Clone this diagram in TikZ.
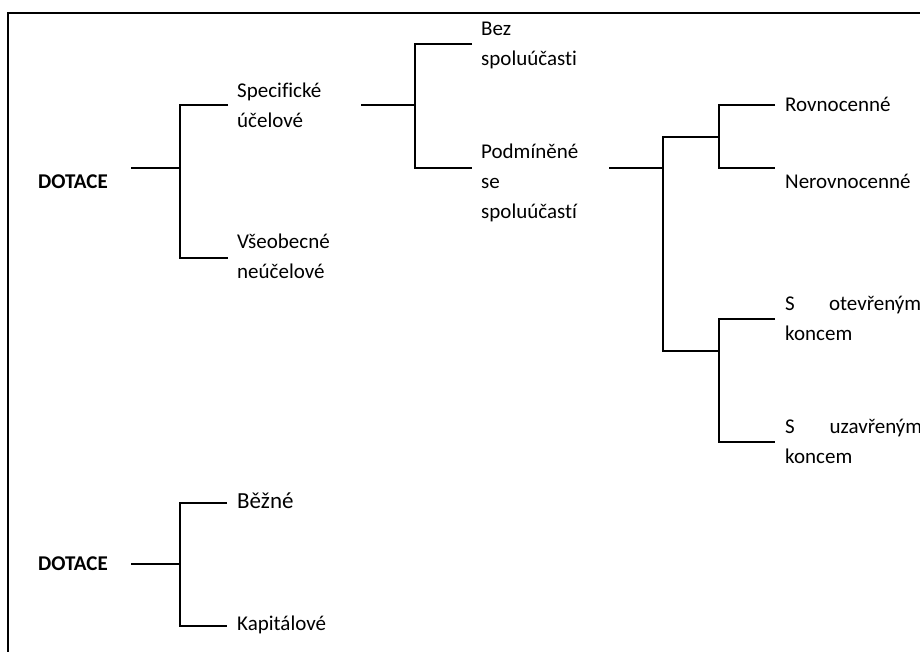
\documentclass[tikz,border=0pt]{standalone}
\usepackage{fontspec}
\setmainfont{Carlito}[Ligatures=NoCommon]
\newcommand{\mlt}[1]{\begin{tabular}[t]{@{}l@{}}#1\end{tabular}}
\begin{document}
\begin{tikzpicture}[x=1pt,y=-1pt,
  lbl/.style={anchor=base west,inner sep=0pt,font=\fontsize{21}{30}\selectfont},
  big/.style={anchor=base west,inner sep=0pt,font=\fontsize{23}{30}\selectfont},
  conn/.style={line width=2pt,miter limit=10,line join=miter}]
\useasboundingbox (0,0) rectangle (920,651);
% frame
\coordinate (fbl) at (8,652);
\coordinate (ftl) at (8,13);
\coordinate (ftr) at (921,13);
\draw[conn] (fbl) -- (ftl) -- (ftr);

% ---------- tree 1 ----------
\node[lbl,font=\fontsize{21}{30}\selectfont\bfseries] (d1) at (38,188) {DOTACE};
\node[lbl] (spec) at (237,97) {\mlt{Specifické\\účelové}};
\node[lbl] (vseo) at (237,248) {\mlt{Všeobecné\\neúčelové}};
\node[lbl] (bez) at (481,35) {\mlt{Bez\\spoluúčasti}};
\node[lbl] (podm) at (481,158) {\mlt{Podmíněné\\se\\spoluúčastí}};
\node[lbl] (rovn) at (785,111) {Rovnocenné};
\node[lbl] (nerovn) at (785,188) {Nerovnocenné};
\node[lbl] (otev) at (785,310) {\mlt{\hbox to 136pt{S\hfill otevřeným}\\koncem}};
\node[lbl] (uzav) at (785,433) {\mlt{\hbox to 137pt{S\hfill uzavřeným}\\koncem}};

\coordinate (d1o) at (131,168);
\coordinate (j1) at (180,168);
\coordinate (j1t) at (180,105);
\coordinate (j1b) at (180,258);
\coordinate (spi) at (228,105);
\coordinate (vsi) at (228,258);
\draw[conn] (d1o) -- (j1);
\draw[conn] (spi) -- (j1t) -- (j1b) -- (vsi);

\coordinate (spo) at (361,105);
\coordinate (j2) at (415,105);
\coordinate (j2t) at (415,44);
\coordinate (j2b) at (415,168);
\coordinate (bzi) at (472,44);
\coordinate (pdi) at (472,168);
\draw[conn] (spo) -- (j2);
\draw[conn] (bzi) -- (j2t) -- (j2b) -- (pdi);

\coordinate (pdo) at (609,168);
\coordinate (j3) at (663,168);
\coordinate (j3t) at (663,137);
\coordinate (j3b) at (663,351);
\coordinate (j4) at (719,137);
\coordinate (j5) at (719,351);
\draw[conn] (pdo) -- (j3);
\draw[conn] (j4) -- (j3t) -- (j3b) -- (j5);

\coordinate (j4t) at (719,105);
\coordinate (j4b) at (719,168);
\coordinate (rvi) at (775,105);
\coordinate (nri) at (775,168);
\draw[conn] (rvi) -- (j4t) -- (j4b) -- (nri);

\coordinate (j5t) at (719,319);
\coordinate (j5b) at (719,442);
\coordinate (oti) at (775,319);
\coordinate (uzi) at (775,442);
\draw[conn] (oti) -- (j5t) -- (j5b) -- (uzi);

% ---------- tree 2 ----------
\node[lbl,font=\fontsize{21}{30}\selectfont\bfseries] (d2) at (38,570) {DOTACE};
\node[big] (bezn) at (237,508) {Běžné};
\node[lbl] (kapi) at (237,630) {Kapitálové};

\coordinate (d2o) at (131,564);
\coordinate (k1) at (180,564);
\coordinate (k1t) at (180,503);
\coordinate (k1b) at (180,626);
\coordinate (bni) at (227,503);
\coordinate (kpi) at (227,626);
\draw[conn] (d2o) -- (k1);
\draw[conn] (bni) -- (k1t) -- (k1b) -- (kpi);
\end{tikzpicture}
\end{document}
